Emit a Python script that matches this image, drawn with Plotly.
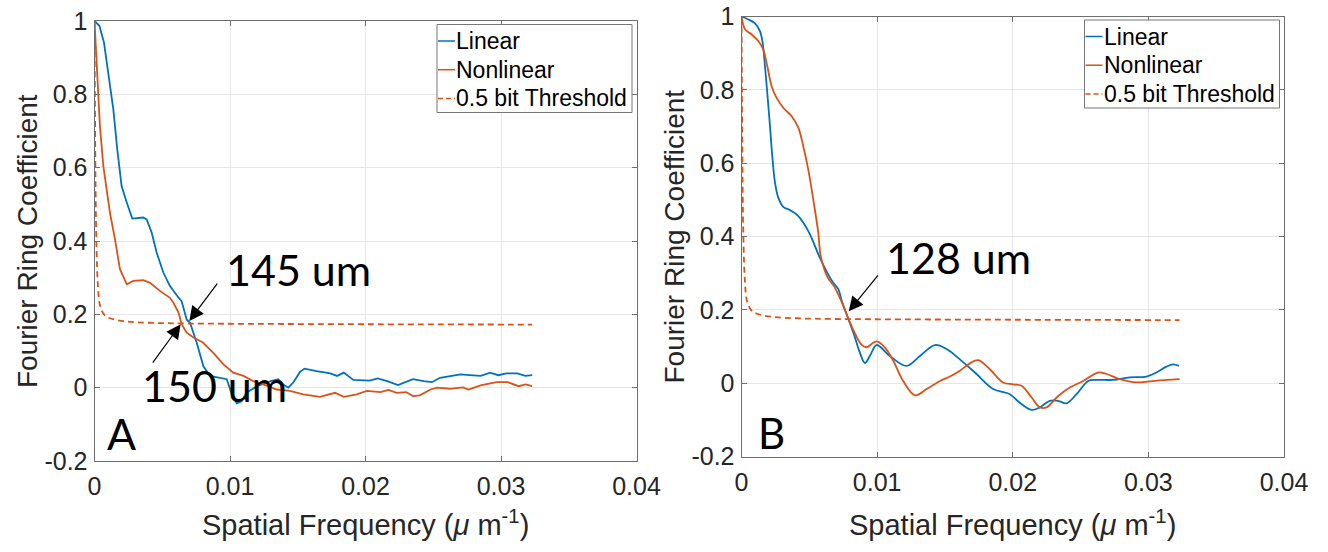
import plotly.graph_objects as go

# ---------------- data ----------------
A_lin_x = [0, 0.00036, 0.0007, 0.00102, 0.00139, 0.00168, 0.0020, 0.00238, 0.00279, 0.0036,
           0.00385, 0.00422, 0.00459, 0.00508, 0.00557, 0.00619, 0.00643, 0.0068, 0.00705, 0.00754,
           0.00803, 0.00852, 0.00926, 0.00976, 0.0101, 0.0105, 0.01086, 0.0112, 0.0120, 0.0130,
           0.01357, 0.0139, 0.0143, 0.01467, 0.01517, 0.0155, 0.0164, 0.0174, 0.0179, 0.0184,
           0.0191, 0.0203, 0.0209, 0.0216, 0.0224, 0.0229, 0.0235, 0.0243, 0.0249, 0.0255,
           0.0262, 0.0270, 0.0277, 0.0285, 0.0292, 0.0298, 0.0304, 0.0312, 0.0318, 0.0323]
A_lin_y = [1.0, 0.987, 0.941, 0.850, 0.759, 0.650, 0.550, 0.505, 0.461, 0.464,
           0.459, 0.423, 0.368, 0.314, 0.277, 0.246, 0.236, 0.186, 0.177, 0.123,
           0.059, 0.032, 0.027, 0.023, -0.014, -0.043, -0.037, -0.014, 0.004, 0.018,
           0.023, 0.009, 0.0, 0.014, 0.043, 0.052, 0.045, 0.039, 0.032, 0.041,
           0.021, 0.019, 0.025, 0.018, 0.007, 0.015, 0.023, 0.018, 0.015, 0.027,
           0.032, 0.036, 0.034, 0.032, 0.041, 0.034, 0.039, 0.039, 0.032, 0.034]

A_non_x = [0, 0.00011, 0.00021, 0.0004, 0.00065, 0.0009, 0.00114, 0.00151, 0.00188, 0.00238,
           0.00286, 0.0036, 0.0041, 0.00483, 0.00557, 0.00582, 0.0062, 0.00643, 0.0068, 0.0073,
           0.0080, 0.00877, 0.0095, 0.01024, 0.0110, 0.0117, 0.01246, 0.01345, 0.01443, 0.0154,
           0.01664, 0.01775, 0.0184, 0.01935, 0.0201, 0.0211, 0.0217, 0.0223, 0.0230, 0.0235,
           0.0240, 0.0248, 0.0253, 0.0262, 0.0272, 0.0276, 0.0285, 0.0292, 0.0297, 0.0305,
           0.0313, 0.0318, 0.0323]
A_non_y = [1.0, 0.923, 0.832, 0.714, 0.605, 0.532, 0.477, 0.405, 0.323, 0.282,
           0.291, 0.293, 0.286, 0.264, 0.245, 0.232, 0.205, 0.173, 0.150, 0.137,
           0.123, 0.095, 0.064, 0.041, 0.032, 0.018, 0.009, -0.005, -0.009, -0.018,
           -0.025, -0.014, -0.025, -0.018, -0.009, -0.012, -0.006, -0.014, -0.012, -0.023,
           -0.021, -0.005, 0.0, -0.003, 0.001, -0.005, 0.006, 0.012, 0.015, 0.015,
           0.004, 0.009, 0.004]

A_thr_x = [0, 0.00003, 0.00008, 0.00015, 0.00025, 0.0004, 0.0007, 0.0011, 0.0017, 0.0025,
           0.004, 0.007, 0.012, 0.02, 0.0323]
A_thr_y = [1.0, 0.80, 0.55, 0.38, 0.28, 0.225, 0.20, 0.19, 0.184, 0.180,
           0.177, 0.175, 0.174, 0.173, 0.172]

B_lin_x = [0, 0.0005, 0.001, 0.00136, 0.00156, 0.00173, 0.0019, 0.0021, 0.00227, 0.00247,
           0.00271, 0.00308, 0.00357, 0.00407, 0.00455, 0.00505, 0.00578, 0.00674, 0.00713, 0.00739,
           0.00778, 0.00831, 0.0087, 0.0091, 0.0095, 0.00996, 0.01094, 0.01217, 0.01315, 0.01426,
           0.01512, 0.0161, 0.01733, 0.01856, 0.01979, 0.0205, 0.02139, 0.022, 0.02273, 0.02335,
           0.02396, 0.0247, 0.02556, 0.02618, 0.0274, 0.02863, 0.02986, 0.0306, 0.03133, 0.03182,
           0.03226]
B_lin_y = [1.0, 0.992, 0.981, 0.960, 0.928, 0.865, 0.792, 0.701, 0.619, 0.547,
           0.506, 0.481, 0.472, 0.460, 0.438, 0.406, 0.342, 0.275, 0.257, 0.225,
           0.185, 0.131, 0.086, 0.055, 0.077, 0.104, 0.074, 0.047, 0.074, 0.104,
           0.093, 0.065, 0.025, -0.016, -0.030, -0.053, -0.073, -0.066, -0.048, -0.048,
           -0.055, -0.030, 0.006, 0.009, 0.009, 0.016, 0.018, 0.029, 0.045, 0.051,
           0.047]

B_non_x = [0, 0.00026, 0.00075, 0.00124, 0.0016, 0.0019, 0.00222, 0.00259, 0.00308, 0.0037,
           0.00419, 0.00455, 0.00492, 0.00529, 0.00566, 0.00584, 0.00634, 0.00686, 0.00739, 0.00778,
           0.00831, 0.00884, 0.0092, 0.00996, 0.01058, 0.01119, 0.01192, 0.01279, 0.01365, 0.01463,
           0.01536, 0.0161, 0.01684, 0.01745, 0.01831, 0.01929, 0.02003, 0.02065, 0.02139, 0.022,
           0.02249, 0.02335, 0.02421, 0.02519, 0.02629, 0.02691, 0.02789, 0.02912, 0.0301, 0.03133,
           0.03231]
B_non_y = [1.0, 0.965, 0.951, 0.933, 0.910, 0.865, 0.810, 0.778, 0.751, 0.728,
           0.697, 0.647, 0.583, 0.501, 0.411, 0.347, 0.289, 0.262, 0.221, 0.185,
           0.140, 0.105, 0.098, 0.114, 0.097, 0.061, 0.006, -0.033, -0.016, 0.006,
           0.018, 0.034, 0.054, 0.063, 0.038, 0.002, -0.003, -0.007, -0.039, -0.066,
           -0.066, -0.035, -0.012, 0.006, 0.029, 0.025, 0.011, 0.002, 0.005, 0.009,
           0.011]

B_thr_x = [0, 0.00003, 0.00008, 0.00015, 0.00025, 0.0004, 0.0007, 0.0011, 0.0017, 0.0025,
           0.004, 0.007, 0.012, 0.02, 0.0323]
B_thr_y = [1.0, 0.80, 0.55, 0.38, 0.28, 0.225, 0.20, 0.19, 0.184, 0.180,
           0.177, 0.175, 0.174, 0.173, 0.172]

series_names = ["Linear", "Nonlinear", "0.5 bit Threshold"]
x_tick_vals = [0, 0.01, 0.02, 0.03, 0.04]
x_tick_text = ["0", "0.01", "0.02", "0.03", "0.04"]
y_tick_vals = [-0.2, 0, 0.2, 0.4, 0.6, 0.8, 1]
y_tick_text = ["-0.2", "0", "0.2", "0.4", "0.6", "0.8", "1"]
panel_labels = ["A", "B"]
res_labels = ["145 um", "150 um", "128 um"]
x_title = "Spatial Frequency (<i>μ</i> m<sup>-1</sup>)"
y_title = "Fourier Ring Coefficient"

# ---------------- styling / layout ----------------
# The page's body margin is removed (post_script below), so the figure fills
# the 1328x552 window exactly; positions below are in window pixels.
OFF = 0
W, H = 1328, 552
BLUE = "#0072BD"
ORANGE = "#D95319"
AXC = "#6e6e6e"
GRID = "#e6e6e6"
TXT = "#262626"
FONT = "Liberation Sans, Arial, sans-serif"
BIG = "Lato, Open Sans, sans-serif"

def PX(p):
    return (p - OFF) / W

def PY(p):
    return 1 - (p - OFF) / H

AX = {
    "A": dict(x0=94.5, x1=636.5, y0=21.0, y1=461.0),
    "B": dict(x0=741.5, x1=1284.0, y0=16.5, y1=456.5),
}

fig = go.Figure()

def add_panel(xs, ys, n, shape):
    xa = "x" if n == 1 else "x%d" % n
    ya = "y" if n == 1 else "y%d" % n
    lx, ly, nx, ny, tx, ty = xs[0], ys[0], xs[1], ys[1], xs[2], ys[2]
    fig.add_trace(go.Scatter(x=lx, y=ly, mode="lines", name=series_names[0], xaxis=xa, yaxis=ya,
                             line=dict(color=BLUE, width=1.8, shape=shape), showlegend=False))
    fig.add_trace(go.Scatter(x=nx, y=ny, mode="lines", name=series_names[1], xaxis=xa, yaxis=ya,
                             line=dict(color=ORANGE, width=1.8, shape=shape), showlegend=False))
    fig.add_trace(go.Scatter(x=tx, y=ty, mode="lines", name=series_names[2], xaxis=xa, yaxis=ya,
                             line=dict(color=ORANGE, width=1.8, dash="6px,4px", shape="spline"),
                             showlegend=False))

add_panel([A_lin_x, A_non_x, A_thr_x], [A_lin_y, A_non_y, A_thr_y], 1, "linear")
add_panel([B_lin_x, B_non_x, B_thr_x], [B_lin_y, B_non_y, B_thr_y], 2, "spline")

def xaxis_cfg(box):
    return dict(domain=[PX(box["x0"]), PX(box["x1"])], range=[0, 0.04],
                tickvals=x_tick_vals, ticktext=x_tick_text, ticks="inside", ticklen=5,
                tickcolor=AXC, showline=True, linecolor=AXC, linewidth=1, mirror="ticks",
                showgrid=True, gridcolor=GRID, gridwidth=1, zeroline=False,
                tickfont=dict(family=FONT, size=25, color=TXT), automargin=False,
                ticklabelstandoff=3, ticklabeloverflow="allow")

def yaxis_cfg(box, anchor):
    return dict(domain=[PY(box["y1"]), PY(box["y0"])], range=[-0.2, 1], anchor=anchor,
                tickvals=y_tick_vals, ticktext=y_tick_text, ticks="inside", ticklen=5,
                tickcolor=AXC, showline=True, linecolor=AXC, linewidth=1, mirror="ticks",
                showgrid=True, gridcolor=GRID, gridwidth=1, zeroline=False,
                tickfont=dict(family=FONT, size=25, color=TXT), automargin=False,
                ticklabelstandoff=1, ticklabeloverflow="allow")

fig.update_layout(
    width=W, height=H, margin=dict(l=0, r=0, t=0, b=0),
    paper_bgcolor="white", plot_bgcolor="white", showlegend=False,
    xaxis=dict(xaxis_cfg(AX["A"]), anchor="y"),
    yaxis=yaxis_cfg(AX["A"], "x"),
    xaxis2=dict(xaxis_cfg(AX["B"]), anchor="y2"),
    yaxis2=yaxis_cfg(AX["B"], "x2"),
)

shapes = []
annots = []

# axis titles, custom legends
for key in ["A", "B"]:
    b = AX[key]
    cx = (b["x0"] + b["x1"]) / 2
    cy = (b["y0"] + b["y1"]) / 2
    annots.append(dict(xref="paper", yref="paper", x=PX(cx), y=PY(523), text=x_title,
                       showarrow=False, xanchor="center", yanchor="middle",
                       font=dict(family=FONT, size=29, color=TXT)))
    annots.append(dict(xref="paper", yref="paper", x=PX(b["x0"] - 67.5), y=PY(cy), text=y_title,
                       showarrow=False, textangle=-90, xanchor="center", yanchor="middle",
                       font=dict(family=FONT, size=28, color=TXT)))
    # legend box
    lx0, lx1 = b["x1"] - 199.5, b["x1"] - 4.5
    ly0 = b["y0"] + 3.5
    ly1 = ly0 + 88
    shapes.append(dict(type="rect", xref="paper", yref="paper", x0=PX(lx0), x1=PX(lx1),
                       y0=PY(ly1), y1=PY(ly0), line=dict(color="#777777", width=1),
                       fillcolor="white", layer="above"))
    rows = [(series_names[0], BLUE, "solid"), (series_names[1], ORANGE, "solid"),
            (series_names[2], ORANGE, "5px,3px")]
    for i, (nm, col, dsh) in enumerate(rows):
        yy = ly0 + 16.5 + i * 28.7
        shapes.append(dict(type="line", xref="paper", yref="paper", x0=PX(lx0 + 1), x1=PX(lx0 + 18),
                           y0=PY(yy), y1=PY(yy), line=dict(color=col, width=1.5, dash=dsh),
                           layer="above"))
        annots.append(dict(xref="paper", yref="paper", x=PX(lx0 + 17), y=PY(yy), text=nm,
                           showarrow=False, xanchor="left", yanchor="middle",
                           font=dict(family=FONT, size=23, color="black")))

# panel letters
annots.append(dict(xref="paper", yref="paper", x=PX(121), y=PY(433), text=panel_labels[0],
                   showarrow=False, xanchor="center", yanchor="middle",
                   font=dict(family=BIG, size=43, color="black")))
annots.append(dict(xref="paper", yref="paper", x=PX(771), y=PY(433), text=panel_labels[1],
                   showarrow=False, xanchor="center", yanchor="middle",
                   font=dict(family=BIG, size=42, color="black")))

# resolution labels
annots.append(dict(xref="paper", yref="paper", x=PX(298.5), y=PY(269), text=res_labels[0],
                   showarrow=False, xanchor="center", yanchor="middle",
                   font=dict(family=BIG, size=43, color="black")))
annots.append(dict(xref="paper", yref="paper", x=PX(215), y=PY(385.5), text=res_labels[1],
                   showarrow=False, xanchor="center", yanchor="middle",
                   font=dict(family=BIG, size=43, color="black")))
annots.append(dict(xref="paper", yref="paper", x=PX(958.5), y=PY(257.5), text=res_labels[2],
                   showarrow=False, xanchor="center", yanchor="middle",
                   font=dict(family=BIG, size=43, color="black")))

# arrows (head at crossing, tail near the label), data coords
arrows = [
    ("x", "y", 0.0070, 0.182, 0.00914, 0.288),
    ("x", "y", 0.00636, 0.173, 0.00422, 0.064),
    ("x2", "y2", 0.00791, 0.196, 0.01015, 0.298),
]
for xr, yr, hx, hy, tx, ty in arrows:
    annots.append(dict(xref=xr, yref=yr, axref=xr, ayref=yr, x=hx, y=hy, ax=tx, ay=ty,
                       text="", showarrow=True, arrowhead=2, arrowsize=2.4, arrowwidth=1.2,
                       arrowcolor="black", standoff=0, startstandoff=0))

fig.update_layout(shapes=shapes, annotations=annots)
fig.write_html("out.html", config={"displayModeBar": False},
               post_script="document.body.style.margin='0px';document.body.style.overflow='hidden';")
